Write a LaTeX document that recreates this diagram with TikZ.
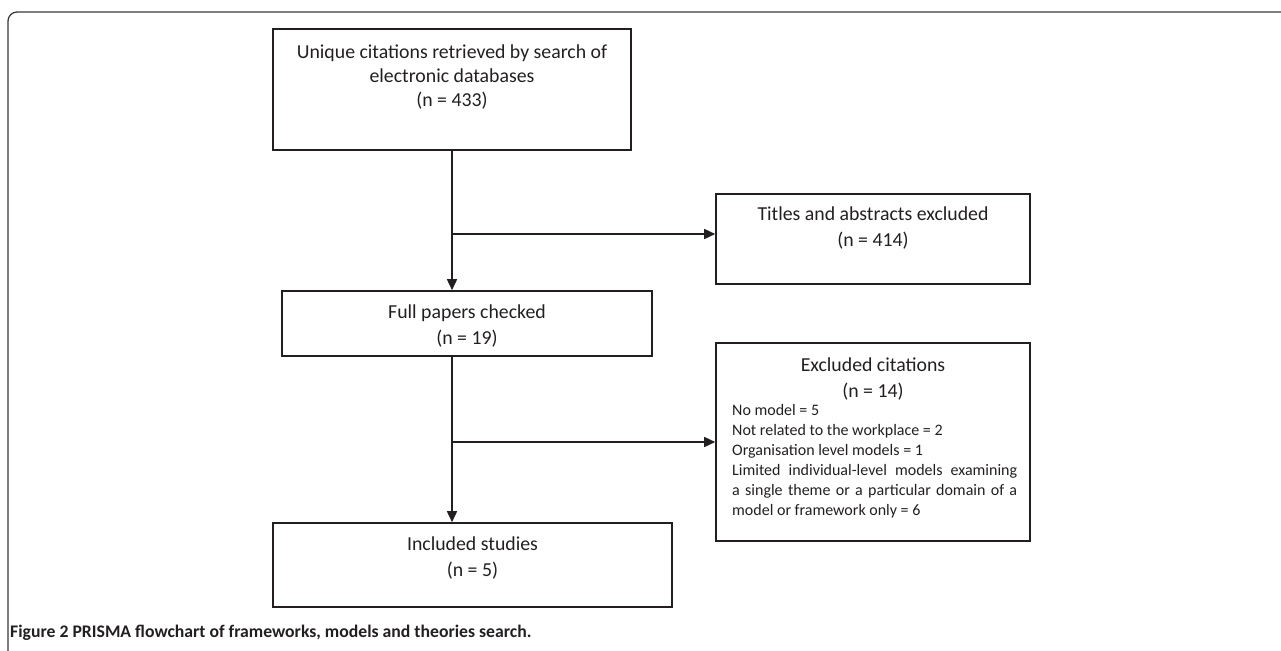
\documentclass[tikz,border=0pt]{standalone}
\usepackage{fontspec}
\setmainfont{Carlito}
\usepackage{tikz}
\usetikzlibrary{arrows.meta}
\definecolor{ink}{HTML}{231F20}
\definecolor{framegray}{HTML}{3A3A3A}
\tikzstyle{stagebox} = [rectangle, draw=ink, line width=1.6pt, inner sep=0pt]
\tikzstyle{boxtext} = [anchor=north, inner sep=0pt, align=center, text=ink, font=\fontsize{19.8}{26}\selectfont]
\tikzstyle{listtext} = [anchor=north west, inner sep=0pt, text=ink, font=\fontsize{16}{20}\selectfont]
\tikzstyle{arrow} = [draw=ink, line width=1.6pt, -{Triangle[length=11pt,width=10pt]}]

\begin{document}
\begin{tikzpicture}[x=1pt,y=-1pt]
\useasboundingbox (0,0) rectangle (1281,650);
% outer frame, cut by the page edge
\draw [framegray, line width=1.3pt, rounded corners=9pt] (8,660) -- (8,12) -- (1290,12);

\node (unique) [stagebox, minimum width=358pt, minimum height=121pt,
  label={[boxtext, yshift=-16pt, font=\fontsize{19.8}{24}\selectfont]north:Unique citations retrieved by search of\\electronic databases\\(n = 433)}] at (452,89.5) {};
\node (titles) [stagebox, minimum width=314pt, minimum height=90pt,
  label={[boxtext, yshift=-13pt]north:Titles and abstracts excluded\\(n = 414)}] at (873,239) {};
\node (full) [stagebox, minimum width=370pt, minimum height=65pt,
  label={[boxtext, yshift=-14.5pt]north:Full papers checked\\(n = 19)}] at (467,323.5) {};
\node (excluded) [stagebox, minimum width=314pt, minimum height=198pt,
  label={[boxtext, yshift=-15pt]north:Excluded citations\\(n = 14)}] at (873,442) {};
\node (reasons) [listtext] at (732,404) {\parbox{285pt}{No model = 5\\
Not related to the workplace = 2\\
Organisation level models = 1\\
Limited individual-level models examining\linebreak
a single theme or a particular domain of a\linebreak
model or framework only = 6}};
\node (included) [stagebox, minimum width=399pt, minimum height=84pt,
  label={[boxtext, yshift=-14pt]north:Included studies\\(n = 5)}] at (472.5,565) {};

\coordinate (split1) at ([yshift=5pt]unique.south |- titles.west);
\draw [arrow] (unique.south) -- (unique.south |- full.north);
\draw [arrow] (split1) -- (split1 -| titles.west);
\draw [arrow] (full.south -| unique.south) -- (unique.south |- included.north);
\draw [arrow] (unique.south |- excluded.west) -- (excluded.west);

\node (caption) [anchor=base west, inner sep=0pt, text=ink, font=\bfseries\fontsize{17.7}{22}\selectfont] at (10,637)
  {Figure 2 PRISMA flowchart of frameworks, models and theories search.};
\end{tikzpicture}
\end{document}
